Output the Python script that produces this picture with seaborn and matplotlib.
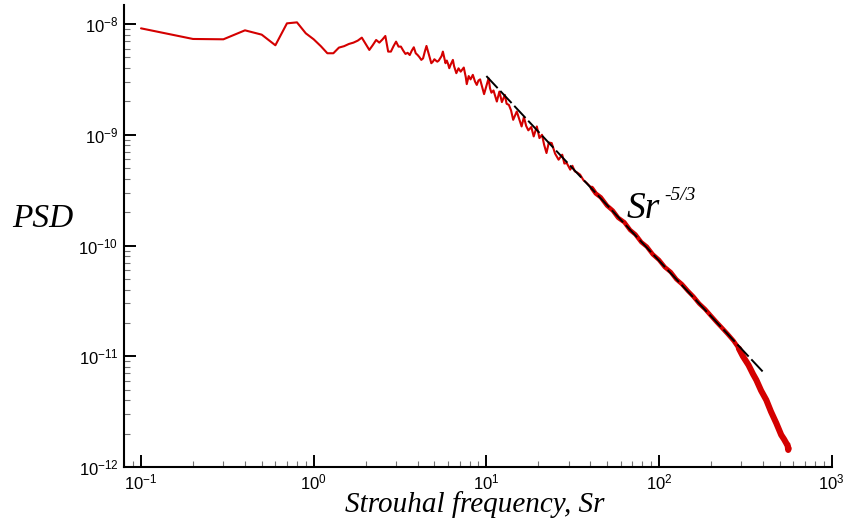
import numpy as np
import pandas as pd
import matplotlib
matplotlib.use("Agg")
import matplotlib.pyplot as plt
import seaborn as sns
from matplotlib.ticker import LogLocator, FuncFormatter, NullFormatter

# ---------------- data ----------------
sr_low = [0.1, 0.2, 0.3, 0.4, 0.5, 0.6, 0.7, 0.8, 0.9, 1.0,
          1.1, 1.2, 1.3, 1.4, 1.5, 1.6, 1.7, 1.8, 1.9, 2.0,
          2.1, 2.2, 2.3, 2.4, 2.5, 2.6, 2.7, 2.8, 2.9, 3.0,
          3.1, 3.2, 3.3, 3.4, 3.5, 3.6, 3.7, 3.8, 3.9, 4.0,
          4.1, 4.2, 4.3, 4.4, 4.5, 4.6, 4.7, 4.8, 4.9, 5.0,
          5.1, 5.2, 5.3, 5.4, 5.5, 5.6, 5.7, 5.8, 5.9, 6.0, 6.1]
logpsd_low = [-8.039, -8.135, -8.138, -8.057, -8.096, -8.192, -7.994, -7.985, -8.084, -8.138,
              -8.200, -8.264, -8.264, -8.213, -8.200, -8.180, -8.168, -8.150, -8.123, -8.180,
              -8.234, -8.190, -8.144, -8.168, -8.140, -8.108, -8.249, -8.249, -8.200, -8.159,
              -8.204, -8.204, -8.240, -8.270, -8.260, -8.280, -8.240, -8.210, -8.264, -8.280,
              -8.300, -8.324, -8.310, -8.250, -8.198, -8.250, -8.300, -8.354, -8.340, -8.318,
              -8.330, -8.340, -8.330, -8.310, -8.290, -8.249, -8.300, -8.354, -8.330, -8.360, -8.399]

sr_mid = [6.2, 6.4, 6.5, 6.7, 6.9, 7.1, 7.4, 7.6, 7.7, 7.9,
          8.1, 8.35, 8.6, 8.8, 9.0, 9.2, 9.5, 9.7, 10.0, 10.3,
          10.5, 10.7, 11.0, 11.5, 11.9, 12.3, 12.8, 13.1, 13.5, 13.9,
          14.3, 15.0, 15.5, 16.0, 16.5, 17.0, 17.5, 18.2, 18.8, 19.6,
          20.3, 21.0, 21.6, 22.3, 23.0, 23.9, 25.0, 26.2, 27.5, 28.3,
          29.2, 30.6, 31.5, 32.5, 33.5, 34.9, 36.5, 38.1, 39.5, 40.8]
logpsd_mid = [-8.370, -8.324, -8.380, -8.444, -8.400, -8.430, -8.393, -8.480, -8.543, -8.470,
              -8.500, -8.459, -8.520, -8.550, -8.510, -8.500, -8.580, -8.633, -8.560, -8.490,
              -8.580, -8.620, -8.600, -8.700, -8.610, -8.705, -8.640, -8.720, -8.730, -8.780,
              -8.865, -8.790, -8.860, -8.925, -8.840, -8.920, -8.960, -8.930, -9.015, -8.925,
              -9.030, -9.000, -9.090, -9.165, -9.070, -9.075, -9.170, -9.225, -9.180, -9.260,
              -9.255, -9.315, -9.280, -9.330, -9.340, -9.360, -9.410, -9.435, -9.460, -9.480]

sr_high = [43, 46, 50, 54, 58, 63, 68, 73, 79, 85,
           92, 100, 108, 117, 126, 136, 147, 158, 171, 185,
           200, 215, 232, 250, 270, 290, 306, 330, 350, 366,
           390, 418, 445, 478, 510, 530, 548, 555, 560, 563]
logpsd_high = [-9.530, -9.565, -9.640, -9.685, -9.750, -9.790, -9.860, -9.900, -9.970, -10.010,
               -10.080, -10.130, -10.195, -10.240, -10.305, -10.350, -10.410, -10.460, -10.525, -10.575,
               -10.635, -10.690, -10.745, -10.800, -10.860, -10.930, -11.000, -11.080, -11.160, -11.214,
               -11.310, -11.395, -11.500, -11.605, -11.710, -11.750, -11.790, -11.800, -11.846, -11.830]

# -5/3 reference slope line (end points)
sr_ref = [10.0, 400.0]
psd_ref = [3.39e-9, 7.23e-12]

x_ticks = [1e-1, 1e0, 1e1, 1e2, 1e3]
y_ticks = [1e-12, 1e-11, 1e-10, 1e-9, 1e-8]

# ---------------- build tables ----------------
sr_all = sr_low + sr_mid + sr_high
psd_all = [10.0 ** v for v in (logpsd_low + logpsd_mid + logpsd_high)]
df = pd.DataFrame({"Sr": sr_all, "PSD": psd_all})
df_ref = pd.DataFrame({"Sr": sr_ref, "PSD": psd_ref})

# ---------------- styling ----------------
sns.set_style("white")
plt.rcParams["font.family"] = ["Liberation Sans", "DejaVu Sans"]
plt.rcParams["mathtext.fontset"] = "custom"
plt.rcParams["mathtext.rm"] = "Liberation Sans"
plt.rcParams["mathtext.it"] = "Liberation Sans:italic"
plt.rcParams["text.color"] = "black"
plt.rcParams["xtick.color"] = "black"
plt.rcParams["ytick.color"] = "black"

fig = plt.figure(figsize=(8.43, 5.20), dpi=100)
ax = fig.add_axes([124 / 843, 53 / 520, (831.7 - 124) / 843, (467 - 5) / 520])

red = "#d40000"
sns.lineplot(data=df, x="Sr", y="PSD", ax=ax, color=red, lw=1.5,
             estimator=None, sort=False)
sns.lineplot(data=df[df["Sr"] >= 40], x="Sr", y="PSD", ax=ax, color=red, lw=3.2,
             estimator=None, sort=False, solid_capstyle="round")
sns.lineplot(data=df[df["Sr"] >= 280], x="Sr", y="PSD", ax=ax, color=red, lw=4.4,
             estimator=None, sort=False, solid_capstyle="round")
sns.lineplot(data=df_ref, x="Sr", y="PSD", ax=ax, color="black", lw=1.4,
             linestyle=(0, (8.5, 2.0)), estimator=None, sort=False)

ax.set_xscale("log")
ax.set_yscale("log")
ax.set_xlim(0.0797, 1000)
ax.set_ylim(1e-12, 1.485e-8)

ax.set_xticks(x_ticks)
ax.set_yticks(y_ticks)
ax.xaxis.set_minor_locator(LogLocator(base=10, subs=np.arange(2, 10), numticks=20))
ax.yaxis.set_minor_locator(LogLocator(base=10, subs=np.arange(2, 10), numticks=20))
ax.xaxis.set_minor_formatter(NullFormatter())
ax.yaxis.set_minor_formatter(NullFormatter())
fmt = FuncFormatter(lambda v, p: r"$\mathregular{10^{%d}}$" % int(round(np.log10(v))))
ax.xaxis.set_major_formatter(fmt)
ax.yaxis.set_major_formatter(fmt)

ax.tick_params(which="both", bottom=True, left=True, top=False, right=False)
ax.tick_params(which="major", direction="in", length=8.6, width=1.4, color="black",
               labelsize=12, labelcolor="black")
ax.tick_params(which="minor", direction="in", length=4.3, width=0.8, color="0.45")
ax.tick_params(axis="x", which="major", pad=4)
ax.tick_params(axis="y", which="major", pad=4)

for s in ["top", "right"]:
    ax.spines[s].set_visible(False)
for s in ["left", "bottom"]:
    ax.spines[s].set_linewidth(1.5)
    ax.spines[s].set_color("black")
ax.set_xlabel("")
ax.set_ylabel("")
ax.grid(False)

serif = ["Liberation Serif", "DejaVu Serif"]
fig.text(12 / 843, 1 - 227 / 520, "PSD", family=serif, style="italic",
         fontsize=24, ha="left", va="baseline", color="black")
fig.text(475 / 843, 1 - 512 / 520, "Strouhal frequency, Sr", family=serif,
         style="italic", fontsize=21, ha="center", va="baseline", color="black")
fig.text(627 / 843, 1 - 218 / 520, "Sr", family=serif, style="italic",
         fontsize=27, ha="left", va="baseline", color="black")
fig.text(664 / 843, 1 - 200 / 520, "-5/3", family=serif, style="italic",
         fontsize=14, ha="left", va="baseline", color="black")

fig.savefig("out.png", dpi=100)
